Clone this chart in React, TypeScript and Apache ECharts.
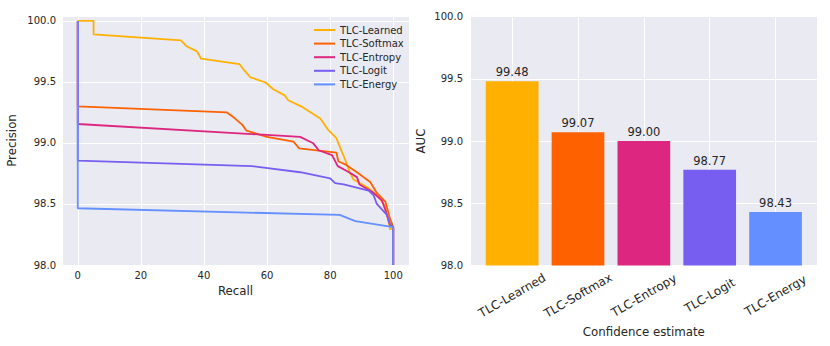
import React, { useEffect, useRef } from "react";
import * as echarts from "echarts";

const FONT = "DejaVu Sans";
const TXT = "#262626";

const seriesNames = ["TLC-Learned", "TLC-Softmax", "TLC-Entropy", "TLC-Logit", "TLC-Energy"];
const seriesColors = ["#FFB000", "#FE6100", "#DC267F", "#785EF0", "#648FFF"];

// Precision-recall curves: [recall (%), precision (%)]
const learnedPR = [
  [0, 100], [5, 100], [5, 99.89], [32.7, 99.84], [34.6, 99.79], [37.8, 99.75], [39.1, 99.69],
  [51.3, 99.645], [52.6, 99.6], [54.6, 99.54], [59.5, 99.495], [62.0, 99.44], [65.6, 99.39],
  [66.7, 99.35], [70.8, 99.3], [76.9, 99.2], [79.3, 99.11], [82.0, 99.04], [83.2, 98.96],
  [84.8, 98.86], [86.4, 98.75], [87.4, 98.7], [92.2, 98.63], [95.3, 98.56], [97.5, 98.48],
  [99.0, 98.29], [100, 98.31], [100, 98.0],
];
const softmaxPR = [
  [0, 100], [0, 99.3], [47.3, 99.25], [49.4, 99.21], [52.1, 99.15], [53.5, 99.1], [60, 99.05],
  [68.4, 99.01], [70.2, 98.955], [82.0, 98.92], [82.6, 98.85], [85.1, 98.82], [88.5, 98.76],
  [92.7, 98.68], [94.8, 98.59], [97.5, 98.52], [99.0, 98.38], [100, 98.31], [100, 98.0],
];
const entropyPR = [
  [0, 100], [0, 99.155], [70.5, 99.05], [74.5, 99.0], [75.8, 98.96], [76.3, 98.94], [80.6, 98.9],
  [82.4, 98.81], [85.3, 98.77], [88.5, 98.72], [89.3, 98.66], [93.3, 98.6], [96.4, 98.53],
  [97.5, 98.45], [99.0, 98.33], [100, 98.31], [100, 98.0],
];
const logitPR = [
  [0, 100], [0, 98.855], [55.2, 98.81], [70.5, 98.76], [80.0, 98.71], [81.6, 98.67], [84.3, 98.66],
  [92.2, 98.61], [93.8, 98.57], [94.8, 98.5], [98.0, 98.41], [99.0, 98.33], [100, 98.31], [100, 98.0],
];
const energyPR = [
  [0, 100], [0, 98.465], [83.0, 98.41], [88.0, 98.36], [100, 98.31], [100, 98.0],
];
const curves = [learnedPR, softmaxPR, entropyPR, logitPR, energyPR];

// AUC bars
const aucCategories = ["TLC-Learned", "TLC-Softmax", "TLC-Entropy", "TLC-Logit", "TLC-Energy"];
const aucValues = [99.48, 99.07, 99.0, 98.77, 98.43];

export default function App() {
  const ref = useRef<HTMLDivElement>(null);
  useEffect(() => {
    if (!ref.current) return;
    const chart = echarts.init(ref.current, undefined, { renderer: "svg" });
    const tickLabel = { color: TXT, fontFamily: FONT, fontSize: 10 };
    const nameStyle = { color: TXT, fontFamily: FONT, fontSize: 11.8 };
    const split = { show: true, lineStyle: { color: "#ffffff", width: 1 } };
    const option: any = {
      animation: false,
      textStyle: { fontFamily: FONT },
      grid: [
        { left: 62, top: 16, width: 347, height: 249, show: true, backgroundColor: "#EAEAF2", borderWidth: 0, containLabel: false },
        { left: 470, top: 16.5, width: 347.7, height: 249, show: true, backgroundColor: "#EAEAF2", borderWidth: 0, containLabel: false },
      ],
      legend: {
        data: seriesNames,
        orient: "vertical",
        left: 308,
        top: 20,
        itemWidth: 21,
        itemHeight: 10,
        itemGap: 3.6,
        itemStyle: { opacity: 0 },
        lineStyle: { width: 2 },
        textStyle: { color: TXT, fontFamily: FONT, fontSize: 10 },
      },
      xAxis: [
        {
          gridIndex: 0,
          type: "value",
          min: -5,
          max: 105,
          minInterval: 20,
          maxInterval: 20,
          name: "Recall",
          nameLocation: "middle",
          nameGap: 18,
          nameTextStyle: nameStyle,
          axisLine: { show: false },
          axisTick: { show: false },
          axisLabel: {
            ...tickLabel,
            margin: 5,
            showMinLabel: false,
            showMaxLabel: false,
            formatter: (v: number) => (Math.abs(v % 20) < 1e-6 ? String(Math.round(v)) : ""),
          },
          splitLine: split,
        },
        {
          gridIndex: 1,
          type: "value",
          min: -0.64,
          max: 4.64,
          minInterval: 1,
          maxInterval: 1,
          name: "Confidence estimate",
          nameLocation: "middle",
          nameGap: 55,
          nameTextStyle: nameStyle,
          axisLine: { show: false },
          axisTick: { show: false },
          axisLabel: {
            color: TXT,
            fontFamily: FONT,
            fontSize: 12,
            rotate: 30,
            align: "center",
            verticalAlign: "middle",
            margin: 30,
            showMinLabel: false,
            showMaxLabel: false,
            formatter: (v: number) => {
              const i = Math.round(v);
              return Math.abs(v - i) < 1e-6 && aucCategories[i] ? aucCategories[i] : "";
            },
          },
          splitLine: split,
        },
      ],
      yAxis: [
        {
          gridIndex: 0,
          type: "value",
          min: 98,
          max: 100.04,
          interval: 0.5,
          name: "Precision",
          nameLocation: "middle",
          nameGap: 44,
          nameTextStyle: nameStyle,
          axisLine: { show: false },
          axisTick: { show: false },
          axisLabel: {
            ...tickLabel,
            margin: 6,
            showMaxLabel: false,
            formatter: (v: number) => (Math.abs(v * 2 - Math.round(v * 2)) < 1e-6 ? v.toFixed(1) : ""),
          },
          splitLine: split,
        },
        {
          gridIndex: 1,
          type: "value",
          min: 98,
          max: 100,
          interval: 0.5,
          name: "AUC",
          nameLocation: "middle",
          nameGap: 43,
          nameTextStyle: nameStyle,
          axisLine: { show: false },
          axisTick: { show: false },
          axisLabel: { ...tickLabel, margin: 7, formatter: (v: number) => v.toFixed(1) },
          splitLine: split,
        },
      ],
      series: [
        ...curves.map((data, i) => ({
          name: seriesNames[i],
          type: "line",
          xAxisIndex: 0,
          yAxisIndex: 0,
          data,
          symbol: "none",
          showSymbol: false,
          lineStyle: { color: seriesColors[i], width: 1.8 },
          itemStyle: { color: seriesColors[i] },
          clip: false,
          z: 2 + i,
        })),
        {
          name: "AUC",
          type: "bar",
          xAxisIndex: 1,
          yAxisIndex: 1,
          barWidth: 52.7,
          data: aucValues.map((v, i) => ({
            value: [i, v],
            itemStyle: { color: seriesColors[i] },
          })),
          label: {
            show: true,
            position: "top",
            distance: 3,
            color: TXT,
            fontFamily: FONT,
            fontSize: 11.5,
            formatter: (p: any) => p.value[1].toFixed(2),
          },
        },
      ],
    };
    chart.setOption(option);
    return () => chart.dispose();
  }, []);
  return (
    <div
      ref={ref}
      style={{ position: "fixed", left: 0, top: 0, width: 830, height: 346, background: "#ffffff" }}
    />
  );
}
